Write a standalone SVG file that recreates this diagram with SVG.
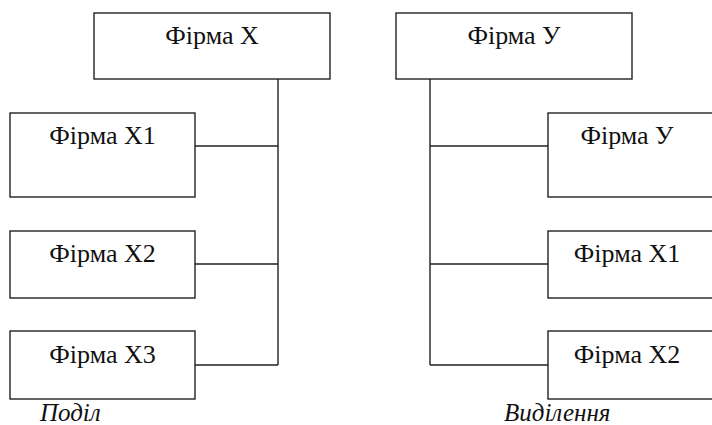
<svg xmlns="http://www.w3.org/2000/svg" width="712" height="425" viewBox="0 0 712 425">
<style>
.box{fill:#fff;stroke:#222;stroke-width:1.4}
.lbl{font-family:'Times New Roman',Times,'Liberation Serif',Tinos,'Noto Serif','DejaVu Serif',serif;font-size:26px;fill:#111;text-anchor:middle}
.cap{font-family:'Times New Roman',Times,'Liberation Serif',Tinos,'Noto Serif','DejaVu Serif',serif;font-size:25px;font-style:italic;fill:#111}
.conn{fill:none;stroke:#222;stroke-width:1.4}
</style>
<rect width="712" height="425" fill="#fff"/>
<g id="connectors">
<path class="conn" d="M278 79V365M195 146H278M195 264H278M195 365H278"/>
<path class="conn" d="M430 79V365M430 146H548M430 264H548M430 365H548"/>
</g>
<g id="firmX"><rect class="box" x="94" y="13" width="236" height="66"/><text class="lbl" x="212" y="44">Фірма X</text></g>
<g id="firmX1"><rect class="box" x="10" y="113" width="185" height="84"/><text class="lbl" x="102.5" y="144">Фірма X1</text></g>
<g id="firmX2"><rect class="box" x="10" y="231" width="185" height="67"/><text class="lbl" x="102.5" y="262">Фірма X2</text></g>
<g id="firmX3"><rect class="box" x="10" y="331" width="185" height="68"/><text class="lbl" x="102.5" y="363">Фірма X3</text></g>
<g id="firmY"><rect class="box" x="396" y="13" width="236" height="66"/><text class="lbl" x="514" y="44">Фірма У</text></g>
<g id="firmY2"><rect class="box" x="548" y="113" width="185" height="84"/><text class="lbl" x="627" y="144">Фірма У</text></g>
<g id="firmYX1"><rect class="box" x="548" y="231" width="185" height="67"/><text class="lbl" x="627" y="262">Фірма X1</text></g>
<g id="firmYX2"><rect class="box" x="548" y="331" width="185" height="68"/><text class="lbl" x="627" y="363">Фірма X2</text></g>
<text class="cap" x="40" y="421">Поділ</text>
<text class="cap" x="504" y="421">Виділення</text>
</svg>
